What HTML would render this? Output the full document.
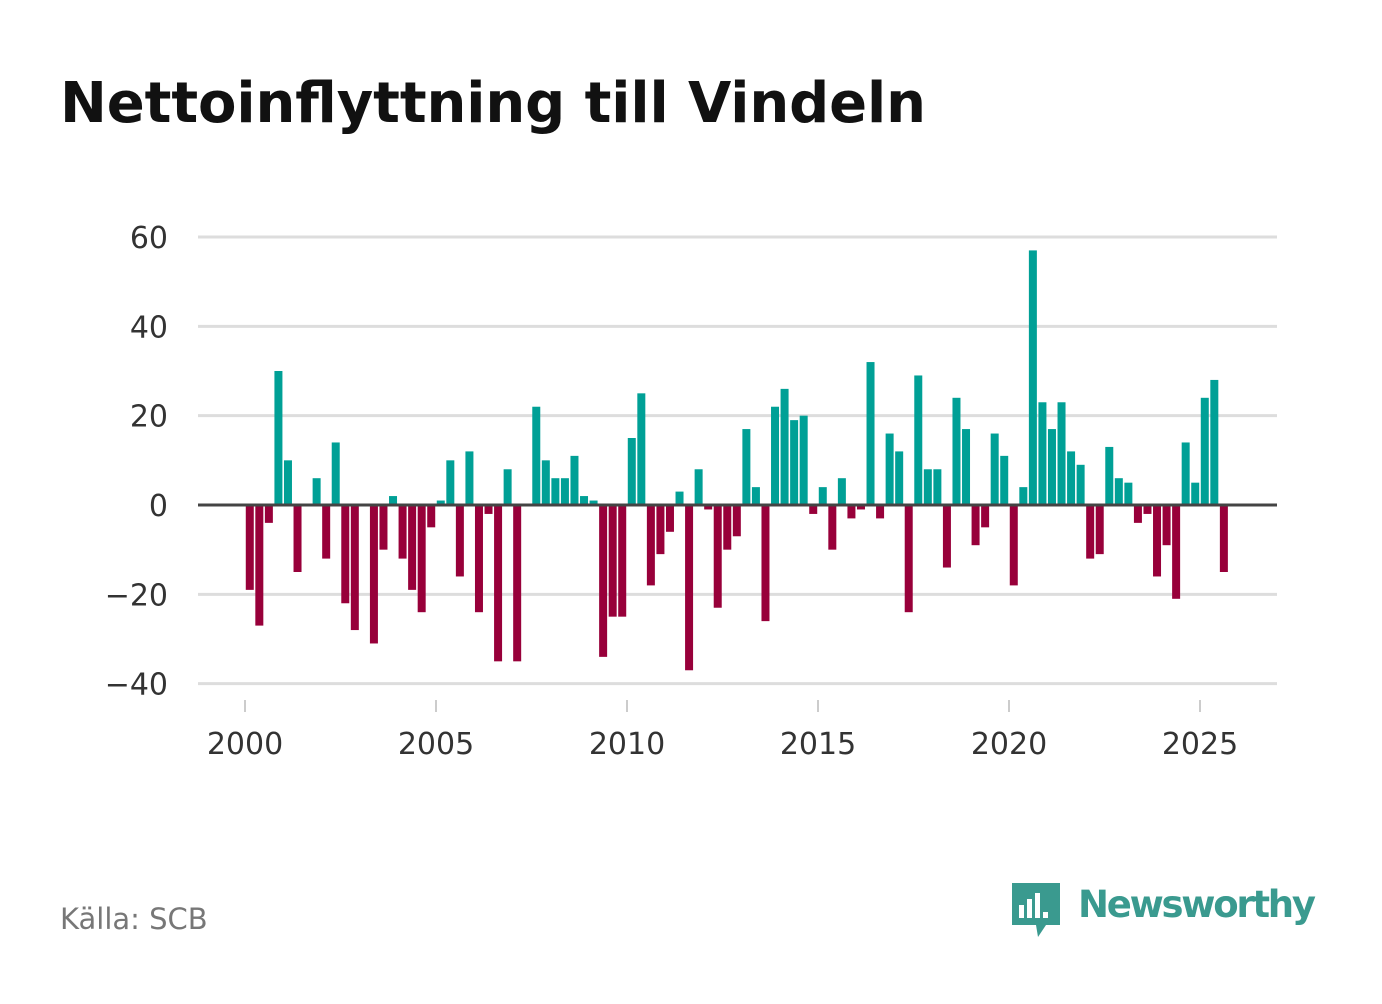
<!DOCTYPE html>
<html><head><meta charset="utf-8"><style>
body{margin:0;background:#fff;}
svg text{font-family:"DejaVu Sans","Liberation Sans",sans-serif;}
</style></head><body>
<svg width="1382" height="999" xmlns="http://www.w3.org/2000/svg">
<text x="60" y="122" font-size="56" font-weight="bold" fill="#111" textLength="866">Nettoinflyttning till Vindeln</text>
<g id="grid"></g><g id="bars"></g><g id="axes"></g>
<text x="60" y="929" font-size="29" fill="#777">Källa: SCB</text>
<g>
<path d="M1012 883h48v42h-14l-8 12-2-12h-24z" fill="#3a9a8f"/>
<rect x="1019" y="905" width="5" height="13" fill="#fff"/><rect x="1027" y="899" width="5" height="19" fill="#fff"/><rect x="1035" y="893" width="5" height="25" fill="#fff"/><rect x="1043" y="912" width="5" height="6" fill="#fff"/>
<text x="1078" y="917" font-size="37" font-weight="bold" fill="#3a9a8f" textLength="238">Newsworthy</text>
</g>
</svg>
<script>
const values=[-19,-27,-4,30,10,-15,0,6,-12,14,-22,-28,0,-31,-10,2,-12,-19,-24,-5,1,10,-16,12,-24,-2,-35,8,-35,0,22,10,6,6,11,2,1,-34,-25,-25,15,25,-18,-11,-6,3,-37,8,-1,-23,-10,-7,17,4,-26,22,26,19,20,-2,4,-10,6,-3,-1,32,-3,16,12,-24,29,8,8,-14,24,17,-9,-5,16,11,-18,4,57,23,17,23,12,9,-12,-11,13,6,5,-4,-2,-16,-9,-21,14,5,24,28,-15];
const startYear=2000;
const yTicks=[-40,-20,0,20,40,60];
const xTicks=[2000,2005,2010,2015,2020,2025];
const NS="http://www.w3.org/2000/svg";
const y=v=>505-v*(268/60);
const x=t=>245+(t-2000)*38.2;
function mk(tag,attrs,parent){const e=document.createElementNS(NS,tag);for(const k in attrs)e.setAttribute(k,attrs[k]);parent.appendChild(e);return e;}
const grid=document.getElementById('grid'),bars=document.getElementById('bars'),axes=document.getElementById('axes');
yTicks.forEach(v=>{
 if(v!==0){const l=mk('line',{x1:198,x2:1277,y1:y(v),y2:y(v),stroke:'#ddd','stroke-width':3},grid);
 
 }
 const t=mk('text',{x:168,y:y(v)+11,'font-size':30,fill:'#333','text-anchor':'end'},axes);
 t.textContent=v<0?'\u2212'+(-v):String(v);
 
 
});
values.forEach((v,i)=>{
 const cx=x(startYear+(i+0.5)/4);
 const r=mk('rect',{x:cx-4,y:Math.min(y(v),y(0)),width:8,height:Math.abs(y(v)-y(0)),fill:v>=0?'#00a096':'#98003a'},bars);
 
 
});
const z=mk('line',{x1:198,x2:1277,y1:y(0),y2:y(0),stroke:'#444','stroke-width':3},axes);


xTicks.forEach(yr=>{
 const tk=mk('line',{x1:x(yr),x2:x(yr),y1:700,y2:712,stroke:'#ccc','stroke-width':2},axes);
 
 
 const t=mk('text',{x:x(yr),y:754,'font-size':30,fill:'#333','text-anchor':'middle'},axes);
 t.textContent=yr;
 
 
});
</script>
</body></html>
